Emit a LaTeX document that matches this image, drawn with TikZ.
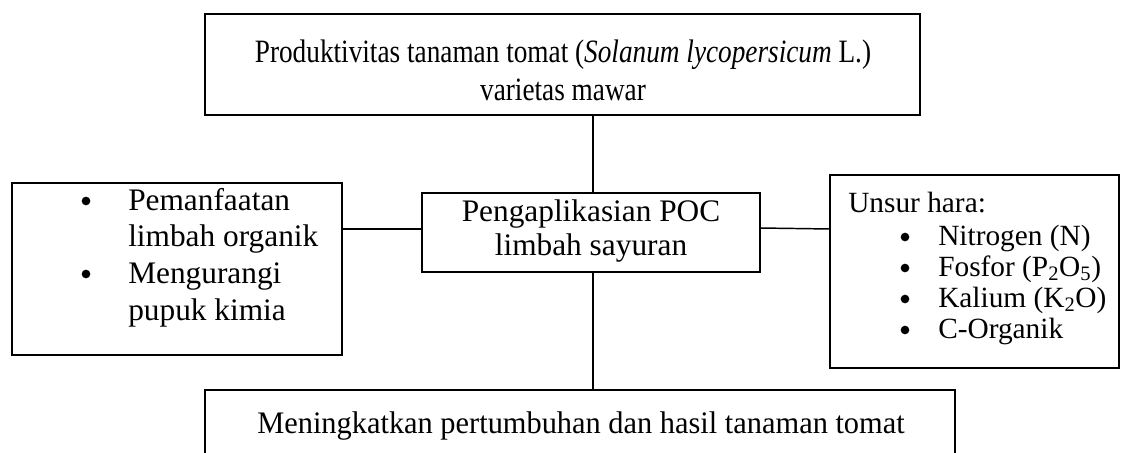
\documentclass[tikz,border=0pt]{standalone}
\usepackage{fontspec}
\setmainfont{Liberation Serif}
\begin{document}
\begin{tikzpicture}[x=0.75pt,y=-0.75pt,
  box/.style={draw=black,line width=1.1pt,fill=none},
  link/.style={draw=black,line width=1.1pt},
  txt/.style={inner sep=0pt,anchor=base,font=\fontsize{23.5pt}{28pt}\selectfont},
  txtw/.style={inner sep=0pt,anchor=base west,font=\fontsize{23.5pt}{28pt}\selectfont},
  txtr/.style={inner sep=0pt,anchor=base west,font=\fontsize{22pt}{26pt}\selectfont},
  bul/.style={circle,fill=black,inner sep=0pt,minimum size=6.5pt}]
\useasboundingbox (0,0) rectangle (1128,453);

% boxes
\draw[box] (205,14) rectangle (920,115);
\draw[box] (422,193) rectangle (760,272);
\draw[box] (12,183) rectangle (342,355);
\draw[box] (830,175) rectangle (1119,368);
\draw[box] (205,390) rectangle (955,470);

\coordinate (topS) at (593,115);
\coordinate (midN) at (593,193);
\coordinate (midS) at (593,272);
\coordinate (botN) at (593,390);
\coordinate (midW) at (422,229);
\coordinate (leftE) at (342,229);
\coordinate (midE) at (760,228);
\coordinate (rightW) at (830,229);

\draw[link] (topS) -- (midN);
\draw[link] (midS) -- (botN);
\draw[link] (midW) -- (leftE);
\draw[link] (midE) -- (rightW);

% top box
\node[txt] (t1) at (563,63) {\scalebox{0.87}[1.04]{Produktivitas tanaman tomat (\textit{Solanum lycopersicum} L.)}};
\node[txt] (t2) at (563,100) {\scalebox{0.87}[1.04]{varietas mawar}};

% centre box
\node[txt] (c1) at (591,221) {Pengaplikasian POC};
\node[txt] (c2) at (591,255) {limbah sayuran};

% left box
\node[bul] (lb1) at (86,201) {};
\node[txtw] (l1) at (128,210) {Pemanfaatan};
\node[txtw] (l2) at (128,246) {limbah organik};
\node[bul] (lb2) at (86,274) {};
\node[txtw] (l3) at (128,283) {Mengurangi};
\node[txtw] (l4) at (128,320) {pupuk kimia};

% right box
\node[txtr] (r0) at (848,212) {Unsur hara:};
\node[bul] (rb1) at (905,237) {};
\node[txtr] (r1) at (938,245) {Nitrogen (N)};
\node[bul] (rb2) at (905,268) {};
\node[txtr] (r2) at (938,276) {Fosfor (P\textsubscript{2}O\textsubscript{5})};
\node[bul] (rb3) at (905,299) {};
\node[txtr] (r3) at (938,307) {Kalium (K\textsubscript{2}O)};
\node[bul] (rb4) at (905,330) {};
\node[txtr] (r4) at (938,338) {C-Organik};

% bottom box
\node[txt] (b1) at (581,433) {\scalebox{0.97}[1]{Meningkatkan pertumbuhan dan hasil tanaman tomat}};
\end{tikzpicture}
\end{document}
